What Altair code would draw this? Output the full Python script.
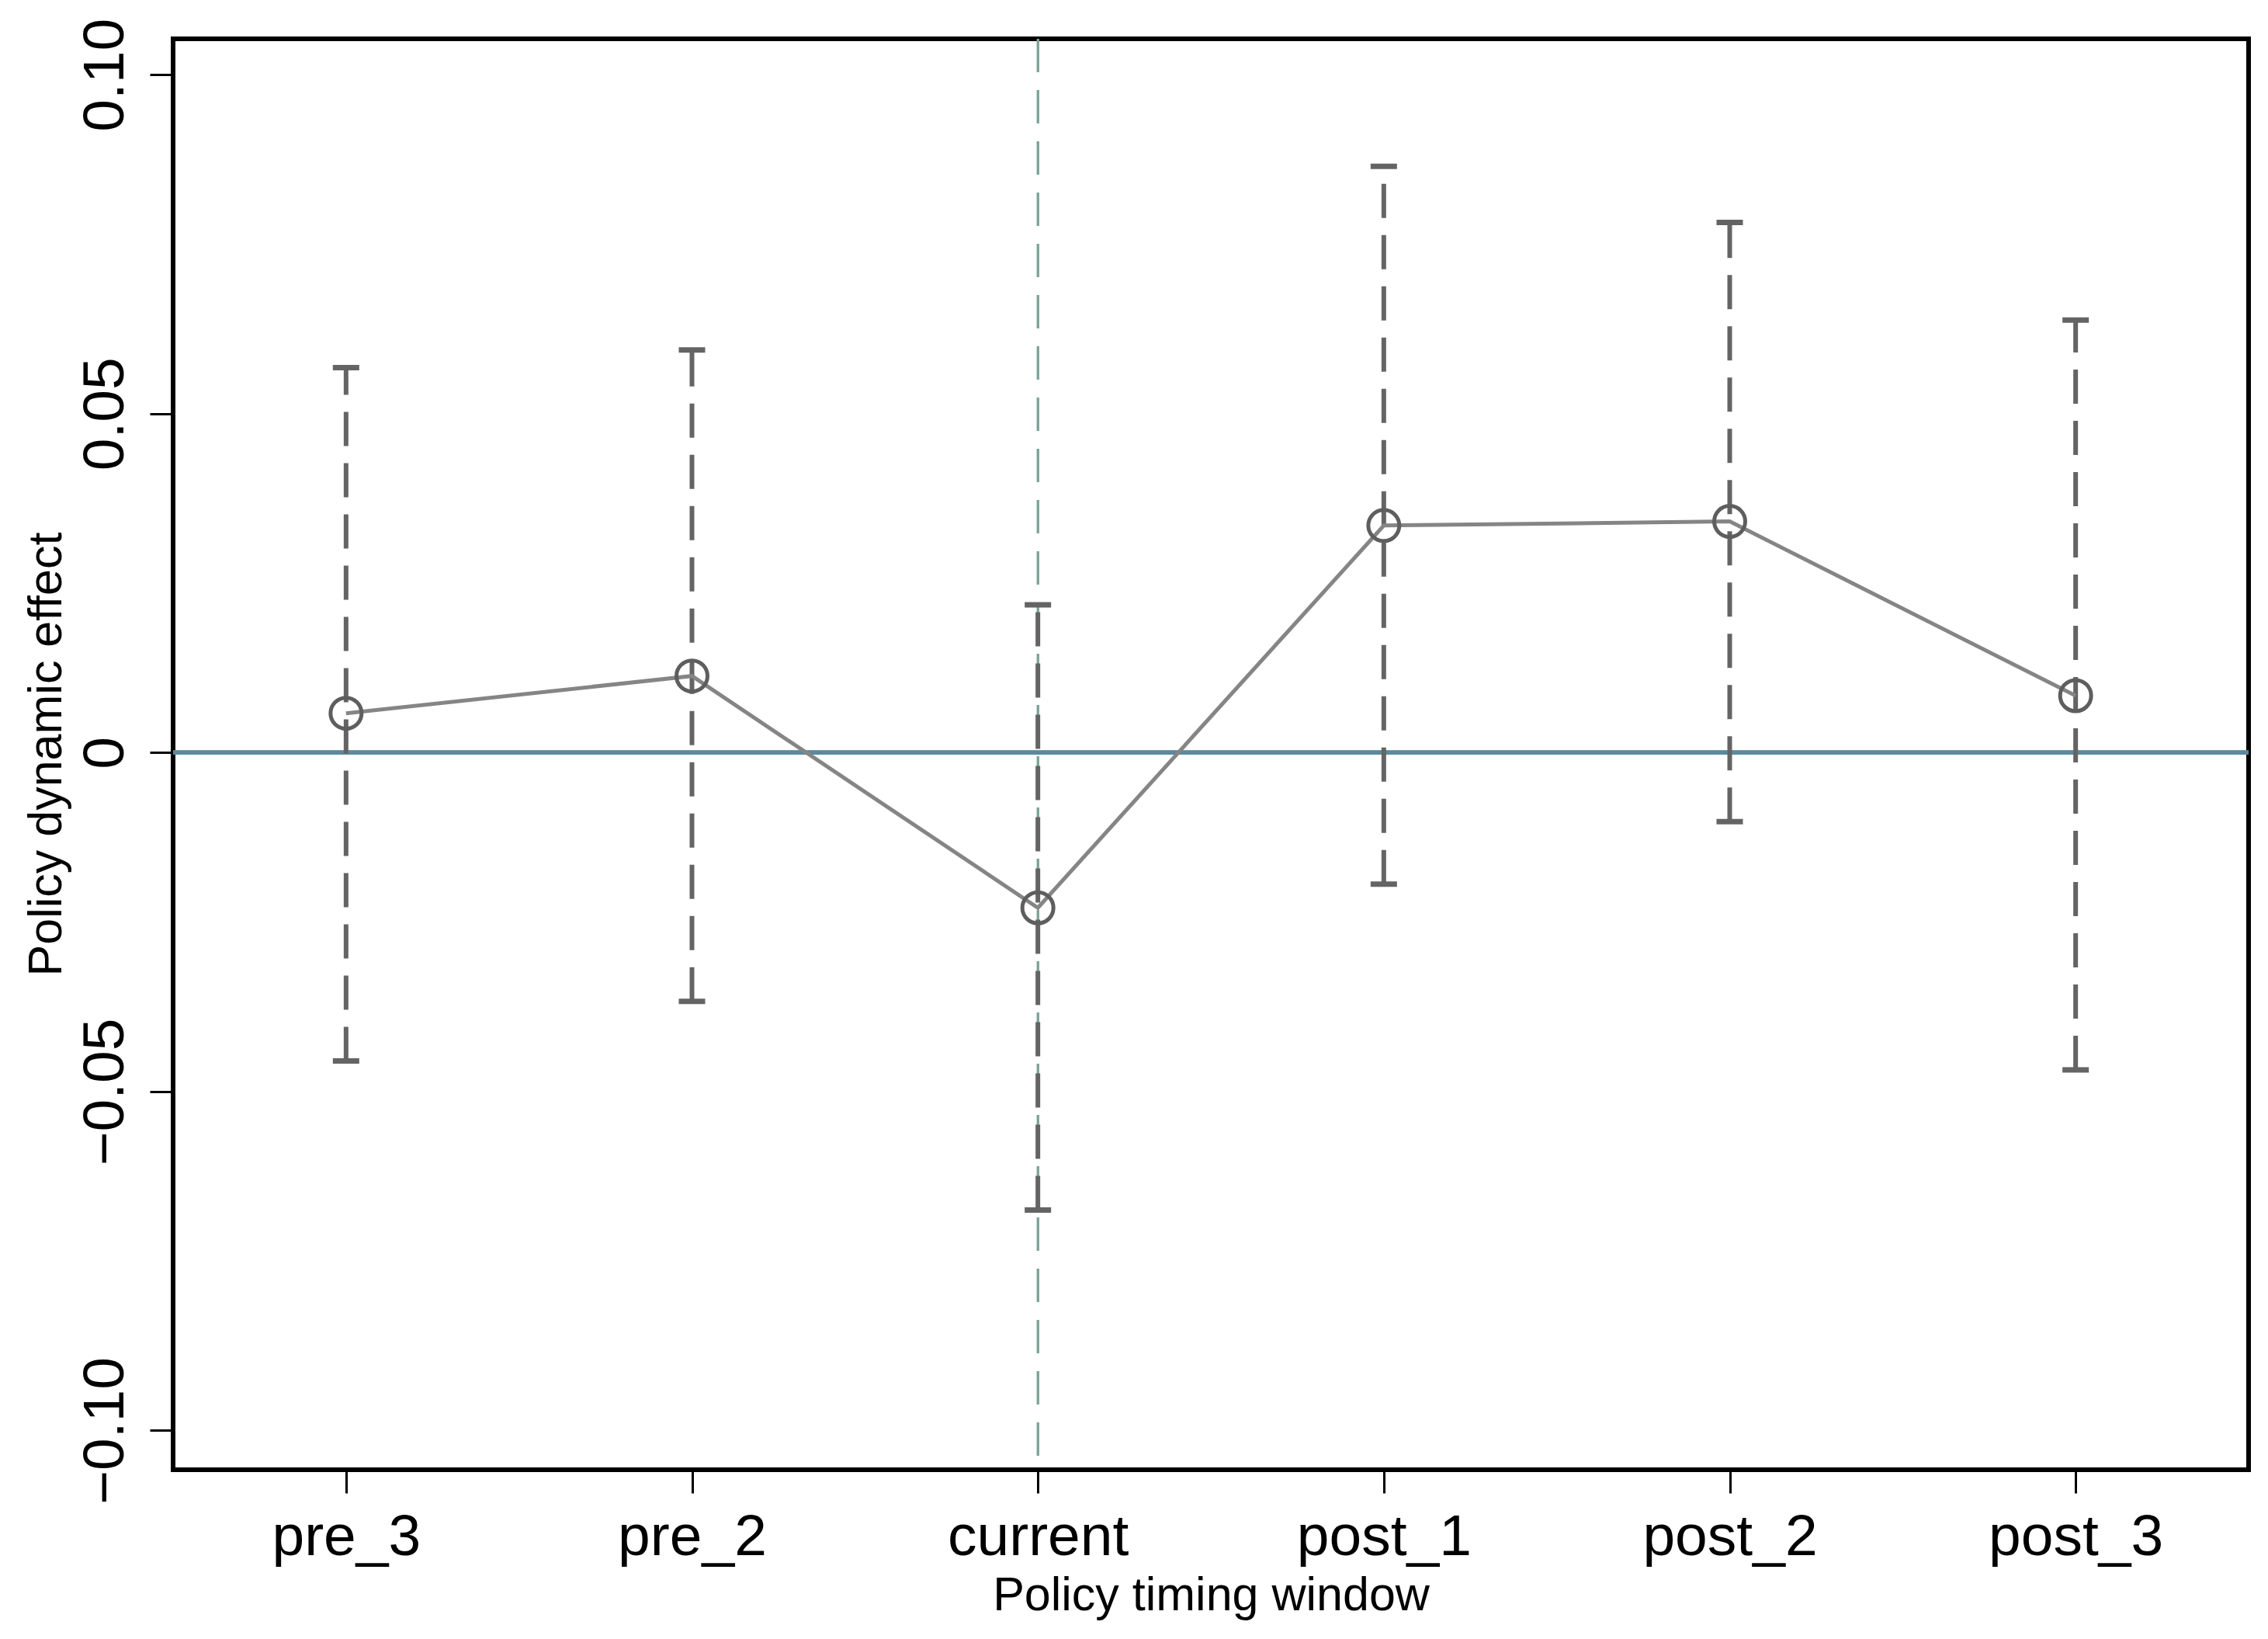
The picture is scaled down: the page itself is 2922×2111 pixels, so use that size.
import altair as alt
import pandas as pd

windows = ["pre_3", "pre_2", "current", "post_1", "post_2", "post_3"]
effect = [0.0058, 0.0113, -0.0229, 0.0335, 0.0341, 0.0084]
ci_low = [-0.0455, -0.0367, -0.0675, -0.0194, -0.0102, -0.0468]
ci_high = [0.0568, 0.0594, 0.0218, 0.0865, 0.0782, 0.0638]
y_ticks = [-0.10, -0.05, 0, 0.05, 0.10]

df = pd.DataFrame({
    "window": windows,
    "effect": effect,
    "low": ci_low,
    "high": ci_high,
    "order": list(range(len(windows))),
})

FONT = "Liberation Sans"

xscale = alt.Scale(domain=windows, type="point", padding=0.5)
yscale = alt.Scale(domain=[-0.1058, 0.1053], nice=False, zero=False)

x_axis = alt.Axis(
    title="Policy timing window",
    labelAngle=0,
    labelFontSize=75,
    labelBaseline="top",
    labelPadding=20,
    labelLimit=0,
    tickSize=30,
    tickWidth=3,
    tickColor="black",
    labelColor="black",
    domain=False,
    grid=False,
    titleFontSize=61,
    titleFontWeight="normal",
    titleColor="black",
    titleBaseline="alphabetic",
    titleAlign="center",
    titleX=1337,
    titleY=180,
)

y_axis = alt.Axis(
    title="Policy dynamic effect",
    values=y_ticks,
    labelExpr="datum.value == 0 ? '0' : replace(format(datum.value, '.2f'), '-', '\u2212')",
    labelAngle=-90,
    labelAlign="center",
    labelBaseline="alphabetic",
    labelFontSize=75,
    labelPadding=35,
    labelLimit=0,
    labelColor="black",
    labelOverlap=False,
    labelBound=False,
    labelFlush=False,
    tickSize=30,
    tickWidth=3,
    tickColor="black",
    domain=False,
    grid=False,
    titleFontSize=61,
    titleFontWeight="normal",
    titleColor="black",
    titleAngle=-90,
    titleAlign="center",
    titleBaseline="alphabetic",
    titleX=-145,
    titleY=921,
)

base = alt.Chart(df)

zero_line = alt.Chart(df).mark_rule(color="#5a8a9c", strokeWidth=5).encode(
    y=alt.datum(0, scale=yscale, axis=y_axis, type="quantitative")
)

vline = alt.Chart(df).mark_rule(color="#7da39a", strokeWidth=2.5, strokeDash=[43, 23]).encode(
    x=alt.datum("current", scale=xscale, axis=x_axis, type="nominal")
)

bars = base.mark_rule(color="#646464", strokeWidth=6, strokeDash=[44, 22]).encode(
    x=alt.X("window:N", scale=xscale, axis=x_axis),
    y=alt.Y("low:Q", scale=yscale, axis=y_axis),
    y2="high:Q",
)

caps_low = base.mark_tick(color="#646464", thickness=7, size=34, opacity=1).encode(
    x=alt.X("window:N", scale=xscale, axis=x_axis),
    y=alt.Y("low:Q", scale=yscale, axis=y_axis),
)
caps_high = base.mark_tick(color="#646464", thickness=7, size=34, opacity=1).encode(
    x=alt.X("window:N", scale=xscale, axis=x_axis),
    y=alt.Y("high:Q", scale=yscale, axis=y_axis),
)

line = base.mark_line(color="#858585", strokeWidth=5).encode(
    x=alt.X("window:N", scale=xscale, axis=x_axis),
    y=alt.Y("effect:Q", scale=yscale, axis=y_axis),
    order="order:Q",
)

points = base.mark_point(shape="circle", filled=False, color="#5e5e5e", size=1600,
                         strokeWidth=5, opacity=1).encode(
    x=alt.X("window:N", scale=xscale, axis=x_axis),
    y=alt.Y("effect:Q", scale=yscale, axis=y_axis),
)

chart = alt.layer(zero_line, vline, bars, caps_low, caps_high, line, points).properties(
    width=2674,
    height=1843,
    padding={"left": 215, "top": 42, "right": 17, "bottom": 210},
    autosize=alt.AutoSizeParams(type="none"),
).configure(
    font=FONT,
).configure_view(
    stroke="black",
    strokeWidth=6,
    fill="white",
).configure_axis(
    labelFont=FONT,
    titleFont=FONT,
)

chart.save("out.html", embed_options={"renderer": "svg", "actions": False})
